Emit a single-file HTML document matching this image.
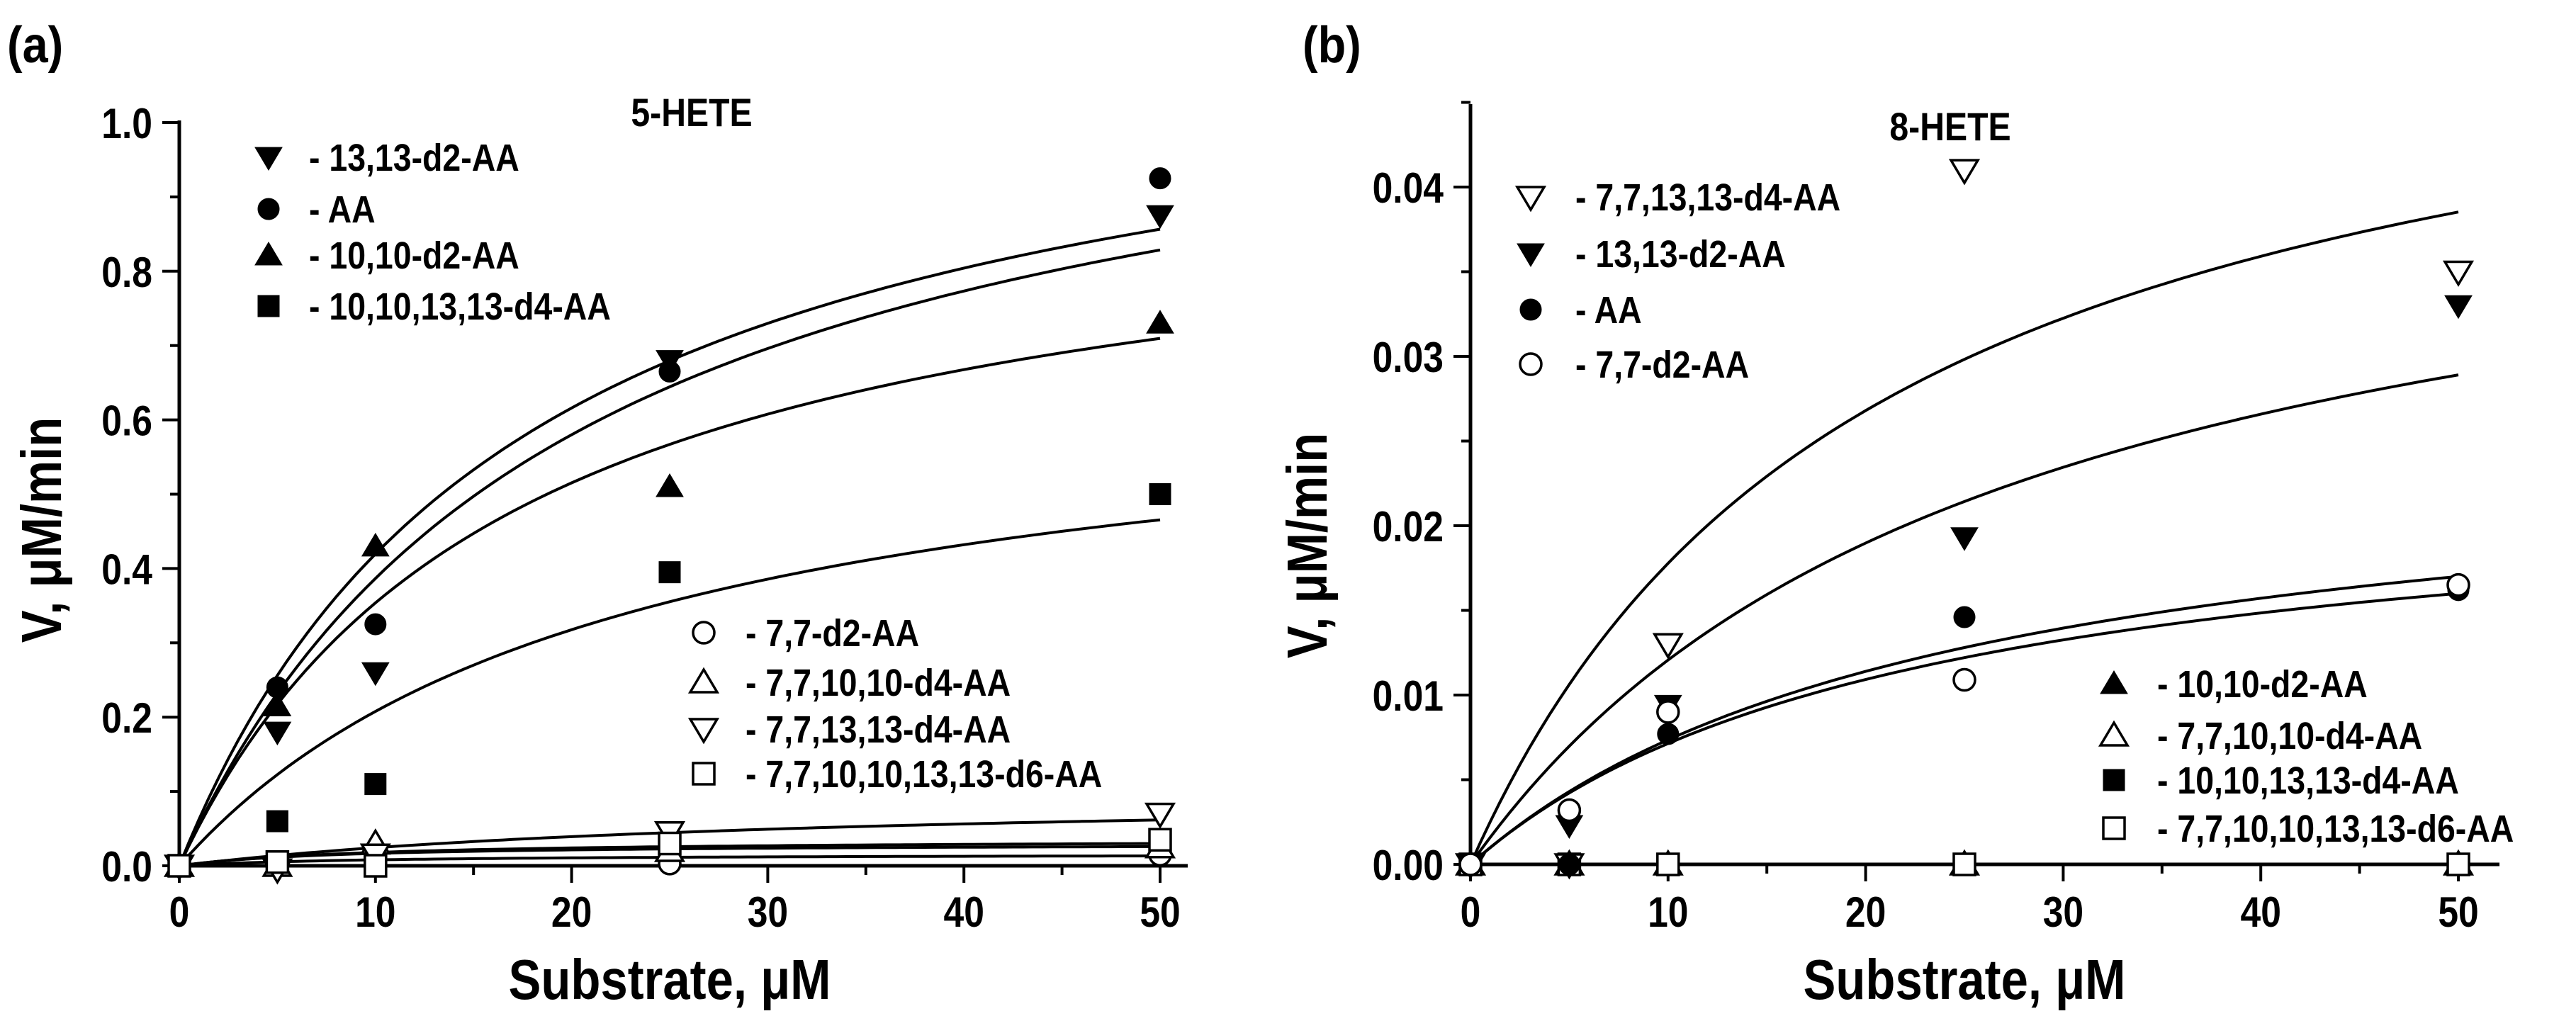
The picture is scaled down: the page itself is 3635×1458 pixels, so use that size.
<!DOCTYPE html>
<html><head><meta charset="utf-8"><style>
html,body{margin:0;padding:0;background:#fff;}
svg{display:block;}
text{font-family:"Liberation Sans",sans-serif;font-weight:bold;fill:#000;}
</style></head><body>
<svg id="chart" width="3635" height="1458" viewBox="0 0 3635 1458" xmlns="http://www.w3.org/2000/svg"></svg>
<script>
// ---- data: panel a (5-HETE) ----
const xsA = [0, 5, 10, 25, 50];
const a_d2_13 = [0, 0.18, 0.26, 0.68, 0.875];
const a_AA = [0, 0.24, 0.325, 0.665, 0.925];
const a_d2_10 = [0, 0.215, 0.43, 0.51, 0.73];
const a_d4_1013 = [0, 0.06, 0.11, 0.395, 0.50];
const a_d2_7 = [0, 0.005, 0.01, 0.003, 0.015];
const a_d4_710 = [0, 0.0, 0.03, 0.02, 0.025];
const a_d4_713 = [0, -0.005, 0.015, 0.045, 0.07];
const a_d6 = [0, 0.005, 0.0, 0.03, 0.035];
const a_fitVmax = [1.158, 1.16, 0.948, 0.675, 0.1, 0.036, 0.03, 0.016, 0];
const a_fitKm = [17.6, 20, 16.8, 22.5, 31, 10, 8, 10, 10];
const a_yTicks = ["0.0", "0.2", "0.4", "0.6", "0.8", "1.0"];
const xTickLabels = ["0", "10", "20", "30", "40", "50"];
// ---- data: panel b (8-HETE) ----
const b_d4_713 = [0, 0, 0.013, 0.041, 0.035];
const b_d2_13 = [0, 0.0023, 0.0094, 0.0193, 0.033];
const b_AA = [0, 0, 0.0077, 0.0146, 0.0162];
const b_d2_7 = [0, 0.0032, 0.009, 0.0109, 0.0165];
const b_zero = [0, 0, 0, 0, 0];
const b_fitVmax = [0.0544, 0.0444, 0.0253, 0.0232, 0];
const b_fitKm = [20.6, 26.8, 24.4, 22.5, 10];
const b_yTicks = ["0.00", "0.01", "0.02", "0.03", "0.04"];

const NS = "http://www.w3.org/2000/svg";
const svg = document.getElementById("chart");
function el(tag, attrs, parent) {
  const e = document.createElementNS(NS, tag);
  for (const k in attrs) e.setAttribute(k, attrs[k]);
  (parent || svg).appendChild(e);
  return e;
}
function txt(s, x, y, size, anchor, parent, sx) {
  const t = el("text", {x: 0, y: 0, "font-size": size, "text-anchor": anchor || "start",
    transform: "translate(" + x + "," + y + ") scale(" + (sx || 0.86) + ",1)"}, parent);
  t.textContent = s;
  return t;
}
function marker(kind, x, y, parent) {
  const s = 17;
  const filled = kind[0] === "f";
  const shape = kind.slice(1);
  const st = {fill: filled ? "#000" : "#fff", stroke: "#000", "stroke-width": filled ? 1 : 3.5};
  let m;
  if (shape === "circle") m = el("circle", Object.assign({cx: x, cy: y, r: s - 2}, st), parent);
  else if (shape === "square") m = el("rect", Object.assign({x: x - s + 2, y: y - s + 2, width: 2 * s - 4, height: 2 * s - 4}, st), parent);
  else if (shape === "up") m = el("polygon", Object.assign({points: (x) + "," + (y - s - 1) + " " + (x + s + 2) + "," + (y + s - 3) + " " + (x - s - 2) + "," + (y + s - 3)}, st), parent);
  else m = el("polygon", Object.assign({points: (x) + "," + (y + s + 1) + " " + (x + s + 2) + "," + (y - s + 3) + " " + (x - s - 2) + "," + (y - s + 3)}, st), parent);
  return m;
}

function panel(cfg) {
  const g = el("g", {});
  
  
  const X = v => cfg.x0 + (cfg.x1 - cfg.x0) * v / 50;
  const Y = v => cfg.y0 - (cfg.y0 - cfg.yTop) * v / cfg.yMaxTick;
  const ax = el("path", {d: "M" + cfg.x0 + "," + cfg.axisTop + " L" + cfg.x0 + "," + cfg.y0 + " L" + cfg.axisRight + "," + cfg.y0, fill: "none", stroke: "#000", "stroke-width": 5}, g);
  
  
  for (let v = 0; v <= 50; v += 5) {
    const major = v % 10 === 0;
    el("line", {x1: X(v), x2: X(v), y1: cfg.y0, y2: cfg.y0 + (major ? 24 : 13), stroke: "#000", "stroke-width": 4}, g);
  }
  xTickLabels.forEach((s, i) => {
    const t = txt(s, X(+s), 1308, 60, "middle", g);
    
    
  });
  const step = cfg.yMaxTick / (cfg.yTicks.length - 1);
  for (let k = 0; k <= (cfg.yTicks.length - 1) * 2 + cfg.extraMinor; k++) {
    const v = k * step / 2;
    const major = k % 2 === 0;
    el("line", {x1: cfg.x0, x2: cfg.x0 - (major ? 24 : 13), y1: Y(v), y2: Y(v), stroke: "#000", "stroke-width": 4}, g);
  }
  cfg.yTicks.forEach((s, i) => {
    const t = txt(s, cfg.x0 - 38, Y(i * step) + 22, 60, "end", g);
    
    
  });
  const xt = txt("Substrate, μM", (cfg.x0 + cfg.x1) / 2, 1410, 80, "middle", g);
  
  
  const yt = el("text", {x: 0, y: 0, "font-size": 80, "text-anchor": "middle", transform: "translate(" + cfg.yTitleX + "," + cfg.yTitleY + ") rotate(-90) scale(0.86,1)"}, g);
  yt.textContent = "V, μM/min";
  
  
  const pt = txt(cfg.title, cfg.titleX, cfg.titleY, 56, "middle", g);
  
  
  const pl = txt(cfg.label, cfg.labelX, 88, 72, "start", g, 0.9);
  
  
  cfg.vmax.forEach((vm, i) => {
    let d = "";
    for (let s = 0; s <= 50; s += 0.5) {
      const v = vm * s / (cfg.km[i] + s);
      d += (s === 0 ? "M" : "L") + X(s).toFixed(1) + "," + Y(v).toFixed(1);
    }
    const p = el("path", {d: d, fill: "none", stroke: "#000", "stroke-width": 4}, g);
    
    
  });
  cfg.series.forEach(sr => {
    const sg = el("g", {}, g);
    
    
    sr.vals.forEach((v, i) => {
      const m = marker(sr.kind, X(xsA[i]), Y(v), sg);
      
      
    });
  });
  cfg.legends.forEach(lg => {
    const lgG = el("g", {}, g);
    
    
    lg.items.forEach((it, i) => {
      const y = lg.ys[i];
      const m = marker(it[0], lg.mx, y, lgG);
      
      
      const t = txt(it[1], lg.tx, y + 19, 54, "start", lgG);
      
      
    });
  });
}

panel({
  name: "panel-a-5-hete", x0: 253, x1: 1637, y0: 1222, yTop: 173, yMaxTick: 1.0, axisTop: 170, axisRight: 1676,
  yTicks: a_yTicks, extraMinor: 0, title: "5-HETE", titleX: 976, titleY: 178, label: "(a)", labelX: 10,
  yTitleX: 86, yTitleY: 748, vmax: a_fitVmax, km: a_fitKm,
  series: [
    {id: "13-13-d2-aa", kind: "fdown", vals: a_d2_13},
    {id: "aa", kind: "fcircle", vals: a_AA},
    {id: "10-10-d2-aa", kind: "fup", vals: a_d2_10},
    {id: "10-10-13-13-d4-aa", kind: "fsquare", vals: a_d4_1013},
    {id: "7-7-d2-aa", kind: "ocircle", vals: a_d2_7},
    {id: "7-7-10-10-d4-aa", kind: "oup", vals: a_d4_710},
    {id: "7-7-13-13-d4-aa", kind: "odown", vals: a_d4_713},
    {id: "7-7-10-10-13-13-d6-aa", kind: "osquare", vals: a_d6}
  ],
  legends: [
    {mx: 379, tx: 436, ys: [222, 295, 360, 432], items: [["fdown", "- 13,13-d2-AA"], ["fcircle", "- AA"], ["fup", "- 10,10-d2-AA"], ["fsquare", "- 10,10,13,13-d4-AA"]]},
    {mx: 993, tx: 1052, ys: [893, 963, 1029, 1092], items: [["ocircle", "- 7,7-d2-AA"], ["oup", "- 7,7,10,10-d4-AA"], ["odown", "- 7,7,13,13-d4-AA"], ["osquare", "- 7,7,10,10,13,13-d6-AA"]]}
  ]
});

panel({
  name: "panel-b-8-hete", x0: 2075, x1: 3469, y0: 1220, yTop: 264, yMaxTick: 0.04, axisTop: 147, axisRight: 3527,
  yTicks: b_yTicks, extraMinor: 1, title: "8-HETE", titleX: 2752, titleY: 198, label: "(b)", labelX: 1838,
  yTitleX: 1872, yTitleY: 770, vmax: b_fitVmax, km: b_fitKm,
  series: [
    {id: "10-10-d2-aa", kind: "fup", vals: b_zero},
    {id: "7-7-10-10-d4-aa", kind: "oup", vals: b_zero},
    {id: "10-10-13-13-d4-aa", kind: "fsquare", vals: b_zero},
    {id: "7-7-10-10-13-13-d6-aa", kind: "osquare", vals: b_zero},
    {id: "7-7-13-13-d4-aa", kind: "odown", vals: b_d4_713},
    {id: "13-13-d2-aa", kind: "fdown", vals: b_d2_13},
    {id: "aa", kind: "fcircle", vals: b_AA},
    {id: "7-7-d2-aa", kind: "ocircle", vals: b_d2_7}
  ],
  legends: [
    {mx: 2160, tx: 2223, ys: [278, 358, 437, 514], items: [["odown", "- 7,7,13,13-d4-AA"], ["fdown", "- 13,13-d2-AA"], ["fcircle", "- AA"], ["ocircle", "- 7,7-d2-AA"]]},
    {mx: 2983, tx: 3044, ys: [965, 1038, 1101, 1169], items: [["fup", "- 10,10-d2-AA"], ["oup", "- 7,7,10,10-d4-AA"], ["fsquare", "- 10,10,13,13-d4-AA"], ["osquare", "- 7,7,10,10,13,13-d6-AA"]]}
  ]
});
</script>
</body></html>
